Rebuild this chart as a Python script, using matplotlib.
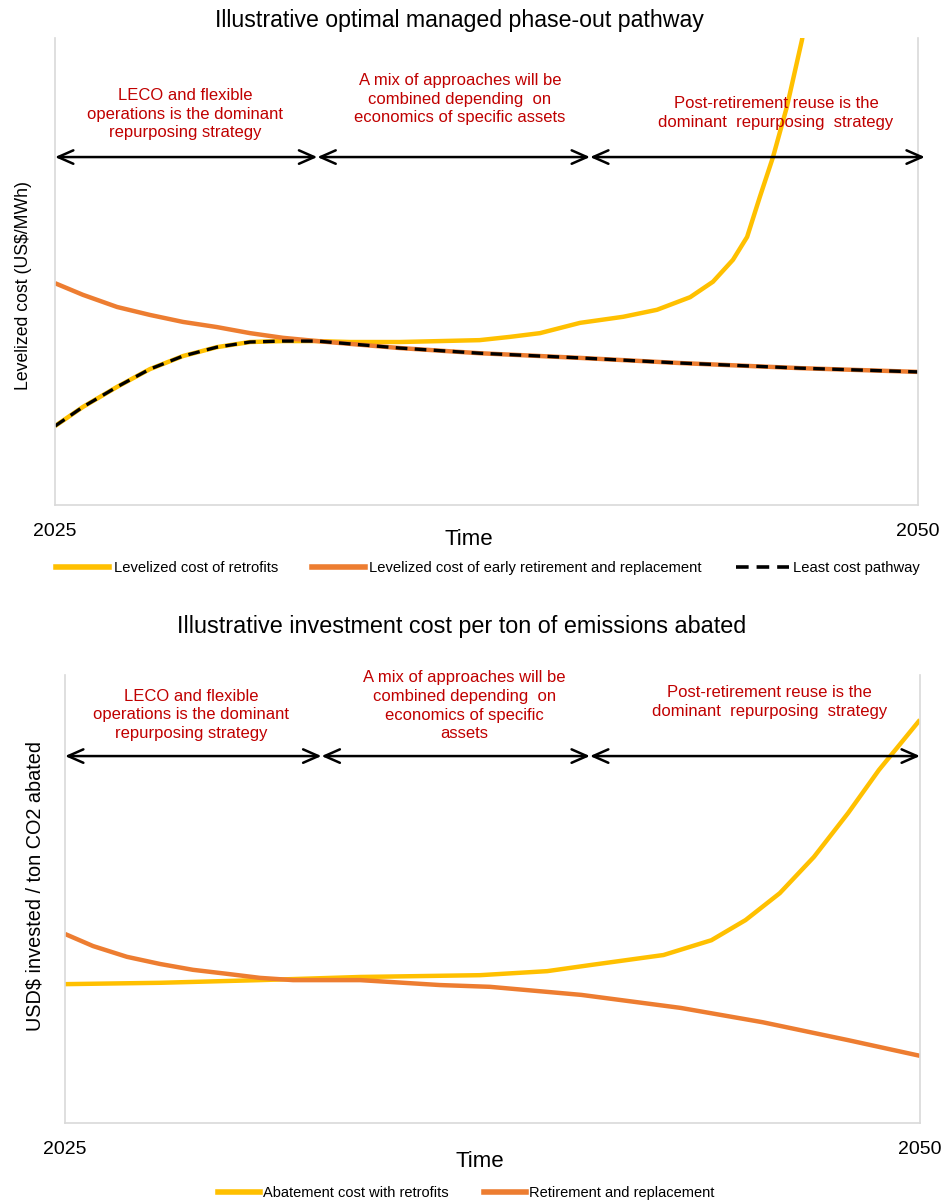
import matplotlib
matplotlib.use('Agg')
import matplotlib.pyplot as plt
from matplotlib.lines import Line2D



########## Data (arbitrary units 0-100)

# Top panel: levelized cost
top_years_retrofit = [2025.0, 2025.81, 2026.8, 2027.75, 2028.71, 2029.69, 2030.65, 2031.6, 2032.59,
                      2033.55, 2035.0, 2037.3, 2038.18, 2039.05, 2040.21, 2041.46, 2042.44,
                      2043.4, 2044.06, 2044.64, 2045.05, 2045.42, 2045.8, 2046.2, 2046.64, 2046.81]
top_cost_retrofit = [16.9, 21.0, 25.3, 29.1, 31.9, 33.8, 34.9, 35.1, 35.1,
                     34.9, 34.9, 35.3, 36.0, 36.8, 39.0, 40.3, 41.8,
                     44.5, 47.8, 52.5, 57.4, 66.0, 74.5, 85.2, 99.6, 107.0]

top_years_replace = [2025.0, 2025.81, 2026.8, 2027.75, 2028.71, 2029.69, 2030.65, 2031.6, 2032.59,
                     2033.55, 2035.0, 2037.3, 2040.2, 2043.1, 2046.6, 2050.0]
top_cost_replace = [47.5, 45.0, 42.4, 40.7, 39.2, 38.1, 36.8, 35.8, 35.1,
                    34.5, 33.6, 32.5, 31.5, 30.4, 29.3, 28.5]

top_years_least = [2025.0, 2025.81, 2026.8, 2027.75, 2028.71, 2029.69, 2030.65, 2031.6, 2032.59,
                   2033.55, 2035.0, 2037.3, 2040.2, 2043.1, 2046.6, 2050.0]
top_cost_least = [16.9, 21.0, 25.3, 29.1, 31.9, 33.8, 34.9, 35.1, 35.1,
                  34.5, 33.6, 32.5, 31.5, 30.4, 29.3, 28.5]

# Bottom panel: investment cost per ton abated
bot_years_retrofit = [2025.0, 2027.78, 2030.7, 2033.63, 2037.13, 2039.1, 2040.4, 2042.5, 2043.9,
                      2044.9, 2045.9, 2046.9, 2047.9, 2048.8, 2050.0]
bot_cost_retrofit = [31.0, 31.3, 31.9, 32.6, 33.0, 33.9, 35.3, 37.5, 40.8,
                     45.3, 51.3, 59.4, 69.2, 78.8, 90.0]

bot_years_replace = [2025.0, 2025.82, 2026.81, 2027.78, 2028.74, 2029.74, 2030.7, 2031.67,
                     2032.66, 2033.63, 2035.96, 2037.43, 2040.1, 2043.0, 2045.4, 2047.9, 2050.0]
bot_cost_replace = [42.2, 39.5, 37.1, 35.5, 34.2, 33.3, 32.4, 31.9,
                    31.9, 31.9, 30.8, 30.4, 28.6, 25.7, 22.5, 18.5, 15.0]

# Phase boundaries (years) and phase descriptions
top_phases = [2025.0, 2032.6, 2040.5, 2050.2]
bot_phases = [2025.0, 2032.5, 2040.35, 2050.0]

top_phase_text = ['LECO and flexible\noperations is the dominant\nrepurposing strategy',
                  'A mix of approaches will be\ncombined depending  on\neconomics of specific assets',
                  'Post-retirement reuse is the\ndominant  repurposing  strategy']
bot_phase_text = ['LECO and flexible\noperations is the dominant\nrepurposing strategy',
                  'A mix of approaches will be\ncombined depending  on\neconomics of specific\nassets',
                  'Post-retirement reuse is the\ndominant  repurposing  strategy']



########## Style
yellow = '#FFC000'
orange = '#ED7D31'
red = '#C00000'
grey = '#D9D9D9'
font = ['Liberation Sans', 'DejaVu Sans']



def style_axes(ax, ylabel, ylabel_size, ylabel_xy, time_xy):
    ax.set_xlim(2025, 2050)
    ax.set_ylim(0, 100)
    ax.spines['top'].set_visible(False)
    for s in ['left', 'right', 'bottom']:
        ax.spines[s].set_color(grey)
        ax.spines[s].set_linewidth(1.2)
    ax.set_yticks([])
    ax.set_xticks([2025, 2050])
    ax.set_xticklabels(['2025', '2050'], family=font, fontsize=14)
    ax.tick_params(axis='x', length=0, pad=13)
    ax.set_xlabel('Time', family=font, fontsize=16)
    ax.xaxis.set_label_coords(*time_xy)
    ax.set_ylabel(ylabel, family=font, fontsize=ylabel_size)
    ax.yaxis.set_label_coords(*ylabel_xy)


def draw_phases(ax, phases, texts, arrow_y, text_xy):
    for i in range(3):
        ax.annotate('', xy=(phases[i + 1], arrow_y), xytext=(phases[i], arrow_y),
                    annotation_clip=False,
                    arrowprops=dict(arrowstyle='<->,head_length=0.5,head_width=0.22',
                                    lw=1.8, color='black', mutation_scale=22,
                                    shrinkA=0, shrinkB=0))
        ax.text(text_xy[i][0], text_xy[i][1], texts[i], color=red, ha='center', va='center',
                family=font, fontsize=12, linespacing=1.3)



fig = plt.figure(figsize=(9.46, 12.01), dpi=100)

##### Top panel
ax1 = fig.add_axes([0.0581, 0.5795, 0.9123, 0.3889])
ax1.plot(top_years_retrofit, top_cost_retrofit, color=yellow, lw=3.2, solid_capstyle='butt')
ax1.plot(top_years_replace, top_cost_replace, color=orange, lw=3.2, solid_capstyle='butt')
ax1.plot(top_years_least, top_cost_least, color='black', lw=2.4, dashes=(3.5, 2.2))
style_axes(ax1, 'Levelized cost (US$/MWh)', 12.7, (-0.027, 0.47), (0.479, -0.052))
ax1.set_title('Illustrative optimal managed phase-out pathway', family=font, fontsize=16.7,
              pad=8, x=0.469)
draw_phases(ax1, top_phases, top_phase_text, 74.5,
            [(2028.77, 83.7), (2036.73, 86.9), (2045.89, 83.9)])

handles1 = [Line2D([], [], color=yellow, lw=4),
            Line2D([], [], color=orange, lw=4),
            Line2D([], [], color='black', lw=2.6, dashes=(3.5, 2.2))]
fig.legend(handles1, ['Levelized cost of retrofits',
                      'Levelized cost of early retirement and replacement',
                      'Least cost pathway'],
           loc='center', bbox_to_anchor=(0.516, 0.527), ncol=3, frameon=False,
           prop={'family': font, 'size': 10.6}, handlelength=3.6, handletextpad=0.3,
           columnspacing=2.3)

##### Bottom panel
ax2 = fig.add_axes([0.0687, 0.0649, 0.9038, 0.3731])
ax2.plot(bot_years_retrofit, bot_cost_retrofit, color=yellow, lw=3.2, solid_capstyle='butt')
ax2.plot(bot_years_replace, bot_cost_replace, color=orange, lw=3.2, solid_capstyle='butt')
style_axes(ax2, 'USD$ invested / ton CO2 abated', 14.3, (-0.024, 0.53), (0.485, -0.062))
ax2.set_title('Illustrative investment cost per ton of emissions abated', family=font,
              fontsize=16.8, pad=30, x=0.464)
draw_phases(ax2, bot_phases, bot_phase_text, 81.9,
            [(2028.68, 91.1), (2036.67, 93.1), (2045.61, 94.0)])

handles2 = [Line2D([], [], color=yellow, lw=4),
            Line2D([], [], color=orange, lw=4)]
fig.legend(handles2, ['Abatement cost with retrofits', 'Retirement and replacement'],
           loc='center', bbox_to_anchor=(0.493, 0.0067), ncol=2, frameon=False,
           prop={'family': font, 'size': 10.5}, handlelength=2.9, handletextpad=0.2,
           columnspacing=2.4)

fig.savefig('out.png', dpi=100)
plt.close()
